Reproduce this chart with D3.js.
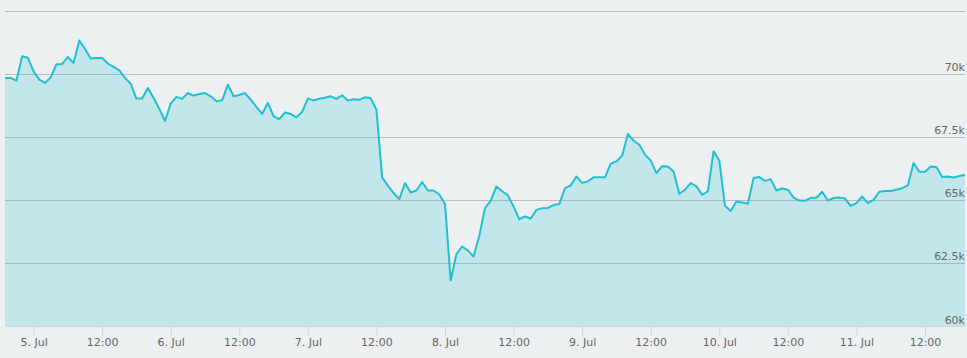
<!DOCTYPE html>
<html>
<head>
<meta charset="utf-8">
<script src="https://cdn.jsdelivr.net/npm/d3@7"></script>
<style>
  html, body { margin: 0; padding: 0; background: #ecf0f1; }
  svg { display: block; }
</style>
</head>
<body>
<svg id="chart" width="967" height="358"></svg>
<script>
// hourly closes, first point 4 Jul 19:00 UTC
const startTime = Date.UTC(2024, 6, 4, 19)
const prices = [
  69830, 69830, 69720, 70690, 70630, 70090, 69760, 69630, 69850, 70370,
  70380, 70660, 70420, 71310, 70980, 70600, 70620, 70620, 70400, 70270,
  70130, 69830, 69600, 69010, 69010, 69430, 69040, 68610, 68120, 68810,
  69080, 69000, 69230, 69130, 69190, 69230, 69100, 68900, 68940, 69560,
  69100, 69150, 69230, 68970, 68680, 68400, 68840, 68310, 68200, 68460,
  68400, 68270, 68480, 69010, 68940, 69000, 69040, 69100, 69000, 69140,
  68930, 68980, 68960, 69060, 69020, 68570, 65890, 65560, 65270, 65030,
  65660, 65290, 65370, 65700, 65370, 65370, 65210, 64830, 61800, 62850,
  63150, 62990, 62750, 63570, 64670, 64960, 65530, 65340, 65180, 64730,
  64230, 64340, 64260, 64600, 64670, 64680, 64790, 64830, 65460, 65570,
  65920, 65670, 65730, 65890, 65890, 65890, 66430, 66520, 66750, 67610,
  67340, 67180, 66790, 66550, 66060, 66330, 66320, 66120, 65240, 65400,
  65660, 65530, 65200, 65330, 66920, 66560, 64760, 64560, 64930, 64890,
  64840, 65860, 65900, 65750, 65820, 65370, 65450, 65400, 65090, 64970,
  64960, 65080, 65080, 65320, 64970, 65070, 65090, 65050, 64760, 64870,
  65130, 64870, 65000, 65320, 65350, 65350, 65400, 65460, 65570, 66460,
  66110, 66110, 66320, 66300, 65900, 65920, 65880, 65940, 65980
]
const yTicks = [60000, 62500, 65000, 67500, 70000, 72500]
const yTickLabels = ['60k', '62.5k', '65k', '67.5k', '70k', '']

const data = prices.map((v, i) => ({ t: new Date(startTime + i * 3600e3), v: v }))

const plot = { left: 5, right: 965, top: 10.5, bottom: 326 }
const lineColor = '#22bfd2'

const x = d3.scaleUtc()
  .domain([data[0].t, data[data.length - 1].t])
  .range([plot.left, plot.right])
const y = d3.scaleLinear()
  .domain([60000, 72500])
  .range([plot.bottom, plot.top])

const svg = d3.select('#chart')

// grid
svg.append('g')
  .selectAll('line')
  .data(yTicks)
  .join('line')
  .attr('x1', plot.left)
  .attr('x2', plot.right)
  .attr('y1', (d) => Math.round(y(d)) + 0.5)
  .attr('y2', (d) => Math.round(y(d)) + 0.5)
  .attr('stroke', (d) => d == 60000 ? '#ccd6eb' : '#bcbcbc')
  .attr('stroke-width', 1)

// area + line
const area = d3.area()
  .x((d) => x(d.t))
  .y0(plot.bottom)
  .y1((d) => y(d.v))
const line = d3.line()
  .x((d) => x(d.t))
  .y((d) => y(d.v))

svg.append('path')
  .datum(data)
  .attr('d', area)
  .attr('fill', lineColor)
  .attr('fill-opacity', 0.2)

svg.append('path')
  .datum(data)
  .attr('d', line)
  .attr('fill', 'none')
  .attr('stroke', lineColor)
  .attr('stroke-width', 2)
  .attr('stroke-linejoin', 'round')

// y labels, right side above grid lines
svg.append('g')
  .selectAll('text')
  .data(yTicks)
  .join('text')
  .attr('x', plot.right)
  .attr('y', (d) => y(d) - 2.5)
  .attr('text-anchor', 'end')
  .attr('font-family', 'DejaVu Sans, sans-serif')
  .attr('font-size', 11)
  .attr('fill', '#666666')
  .text((d, i) => yTickLabels[i])

// x axis
const xTicks = d3.utcHour.every(12).range(data[0].t, data[data.length - 1].t)
const fmt = (d) => d.getUTCHours() == 0
  ? d.getUTCDate() + '. ' + d3.utcFormat('%b')(d)
  : d3.utcFormat('%H:%M')(d)

const xAxis = svg.append('g')
  .attr('transform', `translate(0,${plot.bottom})`)
  .call(d3.axisBottom(x).tickValues(xTicks).tickFormat(fmt).tickSize(10).tickPadding(2))
xAxis.select('.domain').remove()
xAxis.selectAll('.tick line').attr('stroke', '#ccd6eb')
xAxis.selectAll('.tick text')
  .attr('font-family', 'DejaVu Sans, sans-serif')
  .attr('font-size', 11)
  .attr('fill', '#666666')
</script>
</body>
</html>
